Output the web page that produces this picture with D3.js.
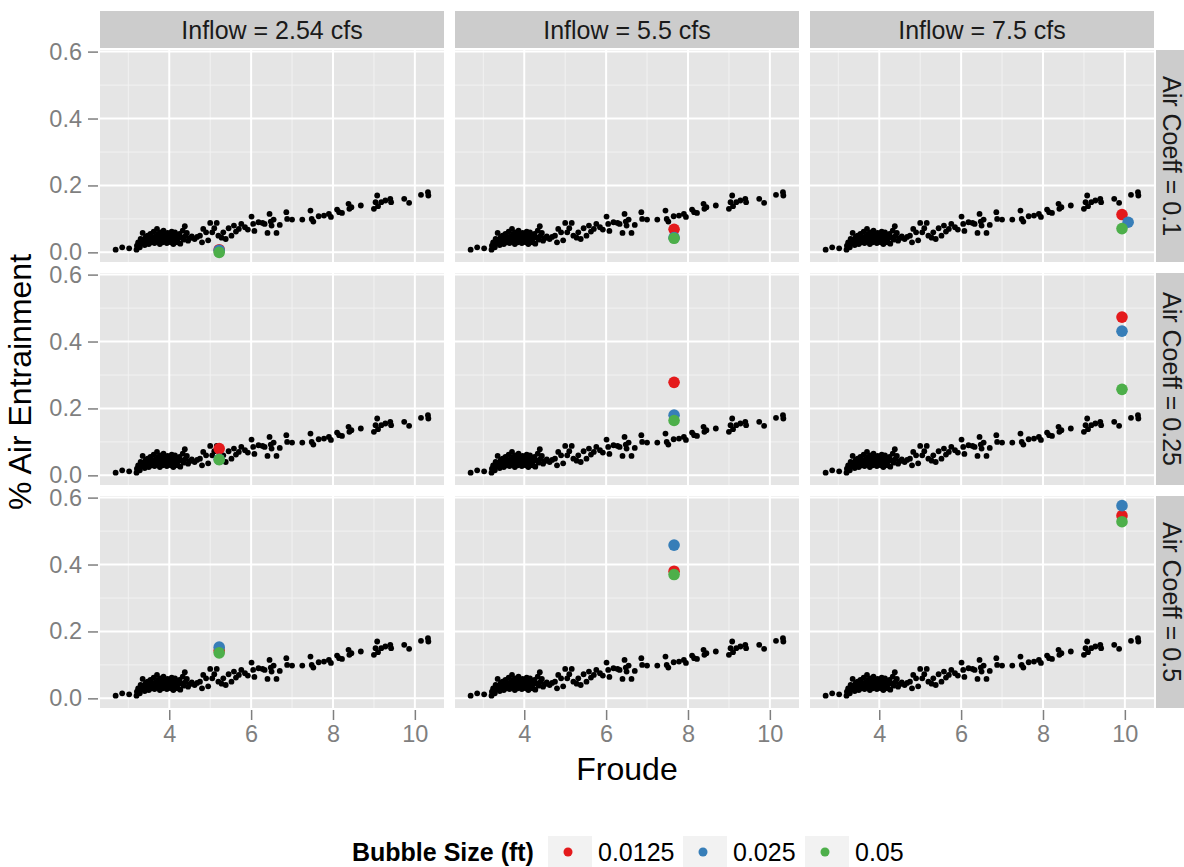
<!DOCTYPE html>
<html>
<head>
<meta charset="utf-8">
<script src="https://cdnjs.cloudflare.com/ajax/libs/d3/7.8.5/d3.min.js"></script>
<style>
  body { margin: 0; background: #fff; }
  text { font-family: "Liberation Sans", Arial, Helvetica, sans-serif; }
</style>
</head>
<body>
<script>
// facet labels
var inflows = ["2.54", "5.5", "7.5"];
var airCoeffs = ["0.1", "0.25", "0.5"];
var bubbleSizes = ["0.0125", "0.025", "0.05"];
var bubbleColors = ["#E41A1C", "#377EB8", "#4DAF4A"];

// ticks
var xTicks = [4, 6, 8, 10];
var xMinor = [3, 5, 7, 9];
var yTicks = [0, 0.2, 0.4, 0.6];
var yMinor = [0.1, 0.3, 0.5];

// observed data (same in every panel)
var obsFroude = [2.69, 2.85, 3.02, 3.20, 3.21, 3.24, 3.28, 3.30, 3.33, 3.35,
  3.37, 3.40, 3.42, 3.45, 3.47, 3.50, 3.52, 3.54, 3.56, 3.58,
  3.60, 3.62, 3.64, 3.66, 3.68, 3.70, 3.71, 3.73, 3.75, 3.77,
  3.79, 3.80, 3.82, 3.84, 3.86, 3.88, 3.90, 3.92, 3.94, 3.96,
  3.98, 4.00, 4.02, 4.04, 4.06, 4.08, 4.10, 4.12, 4.14, 4.16,
  4.18, 4.20, 4.22, 4.25, 4.27, 4.30, 4.33, 4.35, 4.38, 4.40,
  4.43, 4.46, 4.50, 4.55, 4.62, 4.68, 4.75, 4.80, 4.83, 4.90,
  4.95, 5.00, 5.05, 5.10, 5.16, 5.20, 5.28, 5.32, 5.38, 5.45,
  5.52, 5.58, 5.63, 5.70, 5.76, 5.85, 5.92, 6.01, 6.05, 6.08,
  6.18, 6.28, 6.33, 6.40, 6.45, 6.48, 6.50, 6.55, 6.62, 6.70,
  6.86, 6.88, 7.00, 7.25, 7.45, 7.48, 7.52, 7.65, 7.78, 7.90,
  7.95, 8.10, 8.15, 8.22, 8.38, 8.40, 8.45, 8.68, 9.00, 9.04,
  9.08, 9.10, 9.18, 9.28, 9.40, 9.42, 9.74, 9.86, 10.15, 10.32, 10.33];
var obsAir = [0.008, 0.015, 0.012, 0.008, 0.020, 0.030, 0.015, 0.040, 0.028, 0.058,
  0.035, 0.022, 0.045, 0.032, 0.050, 0.025, 0.040, 0.055, 0.030, 0.045,
  0.036, 0.062, 0.028, 0.048, 0.040, 0.070, 0.033, 0.055, 0.044, 0.025,
  0.060, 0.038, 0.050, 0.030, 0.065, 0.042, 0.052, 0.035, 0.028, 0.058,
  0.045, 0.038, 0.052, 0.030, 0.062, 0.042, 0.025, 0.048, 0.060, 0.036,
  0.050, 0.030, 0.042, 0.055, 0.026, 0.045, 0.065, 0.038, 0.078, 0.050,
  0.058, 0.035, 0.042, 0.048, 0.040, 0.046, 0.050, 0.030, 0.070, 0.060,
  0.036, 0.088, 0.060, 0.072, 0.088, 0.050, 0.044, 0.060, 0.040, 0.072,
  0.050, 0.080, 0.062, 0.070, 0.085, 0.075, 0.068, 0.107, 0.085, 0.064,
  0.090, 0.088, 0.085, 0.058, 0.115, 0.092, 0.080, 0.098, 0.058, 0.082,
  0.120, 0.100, 0.098, 0.098, 0.125, 0.100, 0.092, 0.108, 0.110, 0.115,
  0.106, 0.128, 0.120, 0.118, 0.145, 0.130, 0.135, 0.140, 0.130, 0.150,
  0.170, 0.138, 0.150, 0.155, 0.160, 0.150, 0.160, 0.148, 0.172, 0.180, 0.170];

// simulated results, one row per bubble size, panels in row-major order
// (air coeff 0.1: inflow 2.54, 5.5, 7.5, then 0.25, then 0.5)
var simFroude = [
  [5.22, 7.66, 9.93, 5.22, 7.66, 9.93, 5.22, 7.66, 9.93],
  [5.22, 7.66, 10.08, 5.22, 7.66, 9.93, 5.22, 7.66, 9.93],
  [5.22, 7.66, 9.93, 5.22, 7.66, 9.93, 5.22, 7.66, 9.93]
];
var simAir = [
  [0.008, 0.069, 0.113, 0.080, 0.278, 0.473, 0.143, 0.380, 0.546],
  [0.006, 0.044, 0.090, 0.048, 0.180, 0.431, 0.153, 0.458, 0.576],
  [0.000, 0.042, 0.071, 0.047, 0.164, 0.257, 0.136, 0.370, 0.528]
];

var width = 1184, height = 867;
var panelW = 344, panelH = 212, gap = 11;
var marginLeft = 100, marginTop = 50;
var stripH = 37;

var svg = d3.select("body").append("svg")
  .attr("width", width)
  .attr("height", height);

// ggplot-like expansion of 5% on each side
function expand(ext) {
  var d = (ext[1] - ext[0]) * 0.05;
  return [ext[0] - d, ext[1] + d];
}
var allF = obsFroude.concat(d3.merge(simFroude));
var allA = obsAir.concat(d3.merge(simAir));

var x = d3.scaleLinear().domain(expand(d3.extent(allF))).range([0, panelW]);
var y = d3.scaleLinear().domain(expand(d3.extent(allA))).range([panelH, 0]);

var obs = obsFroude.map(function(f, i) { return { f: f, a: obsAir[i] }; });

function styleAxis(a) {
  a.select(".domain").remove();
  a.selectAll(".tick line").attr("stroke", "#7F7F7F").attr("stroke-width", 1.5);
  a.selectAll(".tick text")
    .attr("fill", "#7F7F7F")
    .attr("font-size", "23.5px")
    .attr("font-family", "Liberation Sans, Arial, sans-serif");
}

for (var r = 0; r < airCoeffs.length; r++) {
  for (var c = 0; c < inflows.length; c++) {
    var px = marginLeft + c * (panelW + gap);
    var py = marginTop + r * (panelH + gap);
    var g = svg.append("g").attr("transform", "translate(" + px + "," + py + ")");

    g.append("rect")
      .attr("width", panelW).attr("height", panelH)
      .attr("fill", "#E5E5E5");

    // minor grid
    g.selectAll(".xm").data(xMinor).enter().append("line")
      .attr("x1", function(d) { return x(d); }).attr("x2", function(d) { return x(d); })
      .attr("y1", 0).attr("y2", panelH)
      .attr("stroke", "#F2F2F2").attr("stroke-width", 1);
    g.selectAll(".ym").data(yMinor).enter().append("line")
      .attr("y1", function(d) { return y(d); }).attr("y2", function(d) { return y(d); })
      .attr("x1", 0).attr("x2", panelW)
      .attr("stroke", "#F2F2F2").attr("stroke-width", 1);
    // major grid
    g.selectAll(".xg").data(xTicks).enter().append("line")
      .attr("x1", function(d) { return x(d); }).attr("x2", function(d) { return x(d); })
      .attr("y1", 0).attr("y2", panelH)
      .attr("stroke", "#fff").attr("stroke-width", 2);
    g.selectAll(".yg").data(yTicks).enter().append("line")
      .attr("y1", function(d) { return y(d); }).attr("y2", function(d) { return y(d); })
      .attr("x1", 0).attr("x2", panelW)
      .attr("stroke", "#fff").attr("stroke-width", 2);

    // observed points
    g.selectAll(".obs").data(obs).enter().append("circle")
      .attr("cx", function(d) { return x(d.f); })
      .attr("cy", function(d) { return y(d.a); })
      .attr("r", 2.9)
      .attr("fill", "#000");

    // simulated points
    var k = r * inflows.length + c;
    for (var b = 0; b < bubbleSizes.length; b++) {
      g.append("circle")
        .attr("cx", x(simFroude[b][k]))
        .attr("cy", y(simAir[b][k]))
        .attr("r", 5.8)
        .attr("fill", bubbleColors[b]);
    }

    // top strips
    if (r === 0) {
      svg.append("rect")
        .attr("x", px).attr("y", marginTop - 2 - stripH)
        .attr("width", panelW).attr("height", stripH)
        .attr("fill", "#CCCCCC");
      svg.append("text")
        .attr("x", px + panelW / 2).attr("y", marginTop - 2 - stripH / 2)
        .attr("dy", "0.36em")
        .attr("text-anchor", "middle")
        .attr("font-size", "25px")
        .attr("fill", "#1a1a1a")
        .text("Inflow = " + inflows[c] + " cfs");
    }
    // right strips
    if (c === inflows.length - 1) {
      var sx = px + panelW + 2;
      svg.append("rect")
        .attr("x", sx).attr("y", py)
        .attr("width", stripH).attr("height", panelH)
        .attr("fill", "#CCCCCC");
      svg.append("text")
        .attr("transform", "translate(" + (sx + stripH / 2 - 3) + "," + (py + panelH / 2) + ") rotate(90)")
        .attr("dy", "0.36em")
        .attr("text-anchor", "middle")
        .attr("font-size", "25px")
        .attr("fill", "#1a1a1a")
        .text("Air Coeff = " + airCoeffs[r]);
    }
    // y axis
    if (c === 0) {
      var ya = svg.append("g")
        .attr("transform", "translate(" + (px - 2) + "," + py + ")")
        .call(d3.axisLeft(y).tickValues(yTicks).tickFormat(d3.format(".1f"))
          .tickSize(10).tickPadding(6));
      styleAxis(ya);
    }
    // x axis
    if (r === airCoeffs.length - 1) {
      var xa = svg.append("g")
        .attr("transform", "translate(" + px + "," + (py + panelH + 2) + ")")
        .call(d3.axisBottom(x).tickValues(xTicks).tickFormat(d3.format("d"))
          .tickSize(10).tickPadding(5));
      styleAxis(xa);
    }
  }
}

// axis titles
var plotMidX = marginLeft + (3 * panelW + 2 * gap) / 2;
var plotMidY = marginTop + (3 * panelH + 2 * gap) / 2;
svg.append("text")
  .attr("x", plotMidX).attr("y", 780)
  .attr("text-anchor", "middle")
  .attr("font-size", "32px")
  .attr("fill", "#000")
  .text("Froude");
svg.append("text")
  .attr("transform", "translate(31," + (plotMidY + 3) + ") rotate(-90)")
  .attr("text-anchor", "middle")
  .attr("font-size", "32px")
  .attr("fill", "#000")
  .text("% Air Entrainment");

// legend
var legY = 852;
svg.append("text")
  .attr("x", 352).attr("y", legY)
  .attr("dy", "0.36em")
  .attr("font-size", "25px")
  .attr("font-weight", "bold")
  .attr("fill", "#000")
  .text("Bubble Size (ft)");

var keyX = [548, 683, 805];
var leg = svg.selectAll(".leg").data(bubbleSizes).enter().append("g")
  .attr("transform", function(d, i) { return "translate(" + keyX[i] + "," + legY + ")"; });
leg.append("rect")
  .attr("x", 0).attr("y", -16).attr("width", 44).attr("height", 40)
  .attr("fill", "#F2F2F2");
leg.append("circle")
  .attr("cx", 20).attr("cy", 0).attr("r", 4.5)
  .attr("fill", function(d, i) { return bubbleColors[i]; });
leg.append("text")
  .attr("x", 50).attr("y", 0).attr("dy", "0.36em")
  .attr("font-size", "25px")
  .attr("fill", "#000")
  .text(function(d) { return d; });
</script>
</body>
</html>
